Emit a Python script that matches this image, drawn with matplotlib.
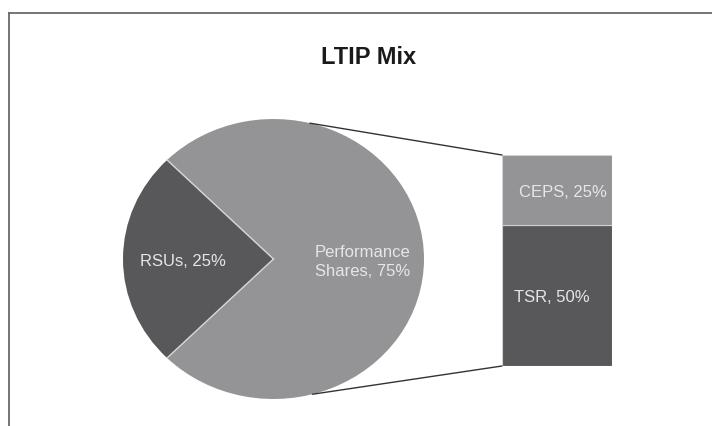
import numpy as np
import matplotlib
matplotlib.use("Agg")
import matplotlib.pyplot as plt
from matplotlib.patches import ConnectionPatch
from matplotlib.lines import Line2D

plt.rcParams['font.family'] = ['Liberation Sans', 'DejaVu Sans']

title = "LTIP Mix"
pie_labels = ["RSUs, 25%", "Performance\nShares, 75%"]
pie_values = [25, 75]
bar_labels = ["TSR, 50%", "CEPS, 25%"]
bar_values = [50, 25]

DARK = "#58585a"
LIGHT = "#949497"
TXT = "#e6e6e6"

W, H = 712, 426
fig = plt.figure(figsize=(W / 100, H / 100), dpi=100)

def px_axes(x0, y0, x1, y1):
    return fig.add_axes([x0 / W, 1 - y1 / H, (x1 - x0) / W, (y1 - y0) / H])

# frame
fig.add_artist(Line2D([9 / W, 1.0], [1 - 13 / H, 1 - 13 / H], transform=fig.transFigure,
                      color="#6a6a6a", lw=1.3))
fig.add_artist(Line2D([9 / W, 9 / W], [0, 1 - 13 / H], transform=fig.transFigure,
                      color="#6a6a6a", lw=1.3))

fig.text(369 / W, 1 - 58 / H, title, ha="center", va="center", fontsize=17,
         fontweight="bold", color="#1a1a1a")

# pie
axp = px_axes(123, 119, 424, 399)
wedges, _ = axp.pie(pie_values, colors=[DARK, LIGHT], startangle=135, counterclock=True,
                    wedgeprops=dict(edgecolor="none", linewidth=0))
# light separators only between wedges
for ang in (135, 225):
    t = np.deg2rad(ang)
    axp.plot([0, np.cos(t)], [0, np.sin(t)], color="#d8d8d8", lw=1.0)
axp.set_aspect("auto")
axp.set_xlim(-1, 1)
axp.set_ylim(-1, 1)
axp.axis("off")
axp.text(-0.60, -0.02, pie_labels[0], ha="center", va="center", color=TXT, fontsize=12)
axp.text(0.59, -0.02, pie_labels[1], ha="center", va="center", color=TXT, fontsize=12,
         linespacing=1.3)

# bar
axb = px_axes(502, 155, 612, 366)
bottom = 0
bar_colors = [DARK, LIGHT]
for v, c in zip(bar_values, bar_colors):
    axb.bar(0, v, bottom=bottom, width=1.0, color=c, edgecolor="#d0d0d0", linewidth=0.8)
    bottom += v
axb.set_xlim(-0.5, 0.5)
axb.set_ylim(0, sum(bar_values))
axb.axis("off")
axb.text(-0.045, 24.5, bar_labels[0], ha="center", va="center", color=TXT, fontsize=12)
axb.text(0.05, 61.5, bar_labels[1], ha="center", va="center", color=TXT, fontsize=12)

# connection lines
for ang, yb in [(76, sum(bar_values)), (-75, 0)]:
    t = np.deg2rad(ang)
    con = ConnectionPatch(xyA=(np.cos(t), np.sin(t)), coordsA=axp.transData,
                          xyB=(-0.5, yb), coordsB=axb.transData,
                          color="#333333", lw=1.0)
    fig.add_artist(con)

fig.savefig("out.png", dpi=100)
